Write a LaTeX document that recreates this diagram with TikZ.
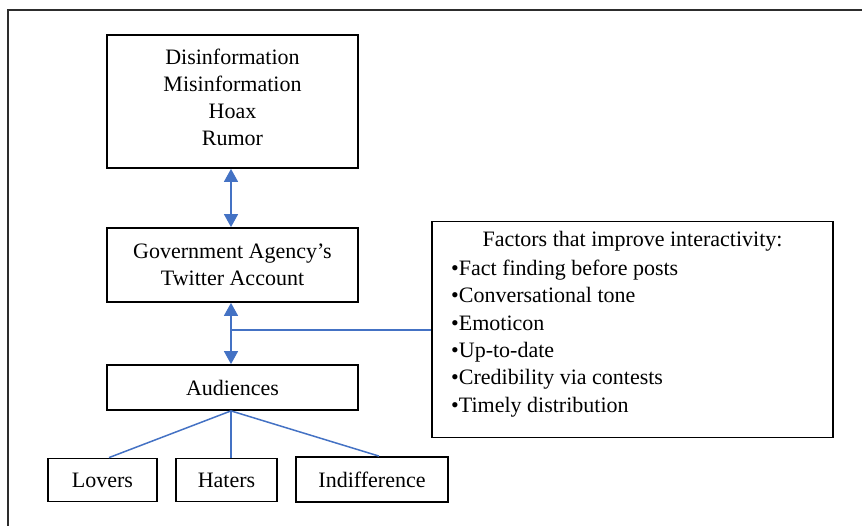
\documentclass[tikz,border=0pt]{standalone}
\usepackage{fontspec}
\setmainfont{Liberation Serif}
\usetikzlibrary{arrows.meta,calc}
\definecolor{linkblue}{RGB}{68,114,196}
\definecolor{framegray}{RGB}{45,45,45}
\begin{document}
\begin{tikzpicture}[x=1pt,y=-1pt,
  box/.style={draw=black,line width=1.8pt,rectangle,inner sep=0pt,align=center,
    font=\fontsize{22}{27}\selectfont},
  link/.style={draw=linkblue,line width=1.5pt},
  dlink/.style={link,{Triangle[length=13pt,width=14pt]}-{Triangle[length=13pt,width=14pt]}}]
\useasboundingbox (0,0) rectangle (862,526);
% outer open frame
\draw[framegray,line width=1.5pt] (8,526) -- (8,10) -- (862,10);
% nodes
\node[box,minimum width=251pt,minimum height=133pt,text depth=8pt] (info) at (232.5,101.5)
  {Disinformation\\Misinformation\\Hoax\\Rumor};
\node[box,minimum width=251pt,minimum height=74pt] (gov) at (232.5,265)
  {Government Agency’s\\Twitter Account};
\node[box,minimum width=251pt,minimum height=45pt] (aud) at (232.5,387.5)
  {Audiences};
\node[box,minimum width=401pt,minimum height=216pt] (fac) at (632.5,329.5) {};
\node[font=\fontsize{22}{27.5}\selectfont,anchor=north,inner sep=0pt] (factitle) at (632.5,231)
  {Factors that improve interactivity:};
\node[font=\fontsize{22}{27.3}\selectfont,anchor=north west,inner sep=0pt,align=left] (faclist) at (451,260)
  {•Fact finding before posts\\•Conversational tone\\•Emoticon\\•Up-to-date\\•Credibility via contests\\•Timely distribution};
\node[box,minimum width=109pt,minimum height=43pt] (lov) at (102.5,480) {Lovers};
\node[box,minimum width=101pt,minimum height=43pt] (hat) at (226.5,480) {Haters};
\node[box,minimum width=152pt,minimum height=45pt] (ind) at (372,479.5) {Indifference};
% connectors
\coordinate (a1) at ($(info.south)+(-1.5,0)$);
\coordinate (a2) at ($(gov.north)+(-1.5,0)$);
\coordinate (a3) at ($(gov.south)+(-1.5,0)$);
\coordinate (a4) at ($(aud.north)+(-1.5,0)$);
\coordinate (jn) at (231,330);
\coordinate (as) at ($(aud.south)+(-1.5,0)$);
\draw[dlink] (a1) -- (a2);
\draw[dlink] (a3) -- (a4);
\draw[link] (jn) -- (fac.west |- jn);
\draw[link] (as) -- (lov.north -| 109,0);
\draw[link] (as) -- (hat.north -| 231,0);
\draw[link] (as) -- (ind.north -| 379,0);
\end{tikzpicture}
\end{document}
